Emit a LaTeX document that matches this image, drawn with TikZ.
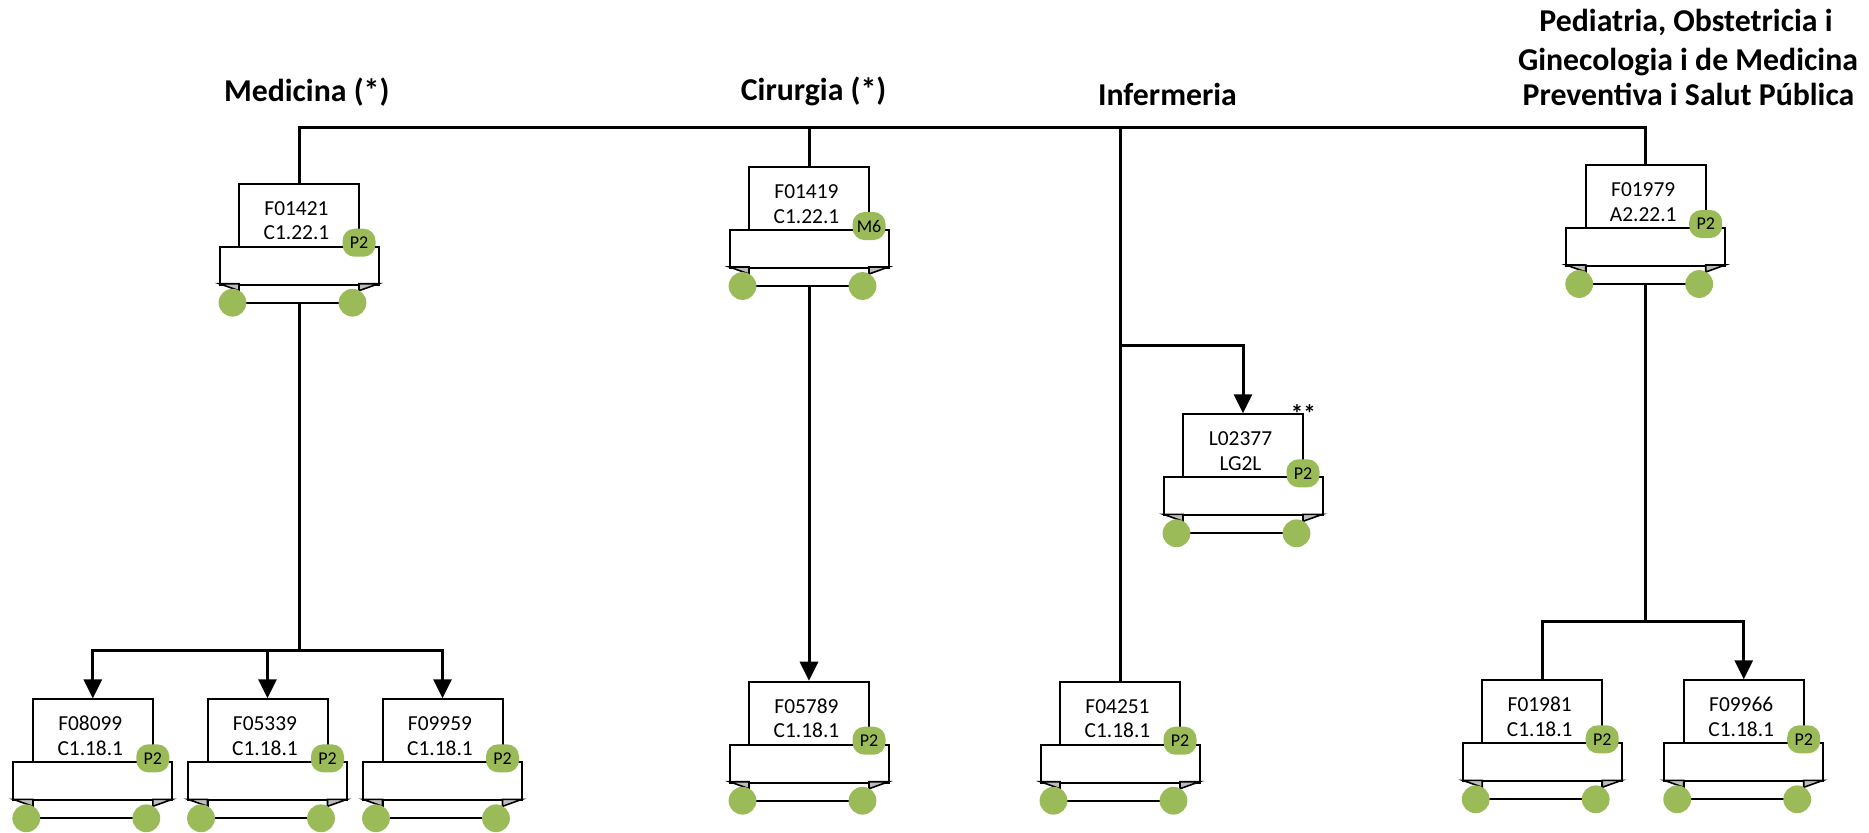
\documentclass[tikz,border=0pt]{standalone}
\usepackage{fontspec}
\setmainfont{Carlito}
\usetikzlibrary{arrows.meta}
\definecolor{olivegreen}{HTML}{9BBB59}
\definecolor{foldgray}{HTML}{BDBDBD}
\tikzset{
  conn/.style={line width=1.5pt},
  arr/.style={line width=1.5pt, -{Triangle[length=9.5pt,width=9pt]}},
  outl/.style={line width=1pt},
  boxst/.style={draw, line width=1pt, fill=white, minimum width=60pt, minimum height=31.5pt, inner sep=0pt, anchor=north},
  banst/.style={draw, line width=1pt, fill=white, minimum width=79.5pt, minimum height=19pt, inner sep=0pt, anchor=north},
  codetext/.style={font=\fontsize{10.7}{12}\selectfont, inner sep=0pt, anchor=base},
  badge/.style={fill=olivegreen, rounded corners=6pt, minimum width=16.5pt, minimum height=14pt, inner sep=0pt, font=\fontsize{9}{10}\selectfont},
  dot/.style={fill=olivegreen, circle, minimum size=13.9pt, inner sep=0pt},
  heading/.style={font=\bfseries\fontsize{15.9}{18}\selectfont, inner sep=0pt, anchor=base},
}
\newcommand\courseunit[6]{%
  \begin{scope}[shift={(#2,#3)}]
    \node[boxst] (#1) at (0,0) {};
    \draw[outl, fill=white] (-60,101) rectangle (60,120);
    \node[banst] (#1-ban) at (0,63) {};
    \filldraw[line width=0.8pt, fill=foldgray] (-79.5,101) -- (-60,101) -- (-60,108) -- cycle;
    \filldraw[line width=0.8pt, fill=foldgray] (79.5,101) -- (60,101) -- (60,108) -- cycle;
    \node[dot] (#1-cl) at (-66.5,120) {};
    \node[dot] (#1-cr) at (53.5,120) {};
    \node[codetext] (#1-t1) at (-2.5,32.5) {#4};
    \node[codetext] (#1-t2) at (-2.5,57) {#5};
    \node[badge] (#1-bd) at (60,60) {#6};
    \coordinate (#1-bot) at (0,120);
  \end{scope}}
\begin{document}
\begin{tikzpicture}[x=0.5pt, y=-0.5pt]
\useasboundingbox (0,0) rectangle (1869,832);

% headings
\node[heading] (h-med) at (306.7,101.7) {Medicina (*)};
\node[heading] (h-cir) at (813.6,100) {Cirurgia (*)};
\node[heading] (h-inf) at (1167.5,105) {Infermeria};
\node[heading] (h-ped1) at (1686,31.7) {Pediatria, Obstetricia i};
\node[heading] (h-ped2) at (1688,70) {Ginecologia i de Medicina};
\node[heading] (h-ped3) at (1688.5,105) {Preventiva i Salut Pública};

% units
\courseunit{f01421}{299}{182.7}{F01421}{C1.22.1}{P2}
\courseunit{f01419}{809}{166}{F01419}{C1.22.1}{M6}
\courseunit{f01979}{1645.7}{164}{F01979}{A2.22.1}{P2}
\courseunit{l02377}{1243}{413.3}{L02377}{LG2L}{P2}
\courseunit{f04251}{1120}{680.7}{F04251}{C1.18.1}{P2}
\courseunit{f08099}{92.8}{698.3}{F08099}{C1.18.1}{P2}
\courseunit{f05339}{267.5}{698.3}{F05339}{C1.18.1}{P2}
\courseunit{f09959}{442.5}{698.3}{F09959}{C1.18.1}{P2}
\courseunit{f05789}{809}{680.7}{F05789}{C1.18.1}{P2}
\courseunit{f01981}{1542.2}{679.3}{F01981}{C1.18.1}{P2}
\courseunit{f09966}{1743.7}{679.3}{F09966}{C1.18.1}{P2}

\node[font=\bfseries\fontsize{12.5}{14}\selectfont, inner sep=0pt, anchor=base] (l02377-star) at (1303.3,422) {**};

% connectors
\coordinate (busy) at (0,127);
\coordinate (infy) at (0,345);
\coordinate (medy) at (0,650.7);
\coordinate (pedy) at (0,621.7);

\draw[conn] (f01421.north) -- (f01421.north |- busy) -- (f01979.north |- busy) -- (f01979.north);
\draw[conn] (f01419.north) -- (f01419.north |- busy);
\draw[conn] (f04251.north) -- (f04251.north |- busy);
\draw[arr] (f04251.north |- infy) -| (l02377.north);

\draw[conn] (f01421-bot) -- (f01421-bot |- medy);
\draw[arr] (f01421-bot |- medy) -| (f08099.north);
\draw[arr] (f01421-bot |- medy) -| (f05339.north);
\draw[arr] (f01421-bot |- medy) -| (f09959.north);

\draw[arr] (f01419-bot) -- (f05789.north);

\draw[conn] (f01979-bot) -- (f01979-bot |- pedy) -| (f01981.north);
\draw[arr] (f01979-bot |- pedy) -| (f09966.north);
\end{tikzpicture}
\end{document}
